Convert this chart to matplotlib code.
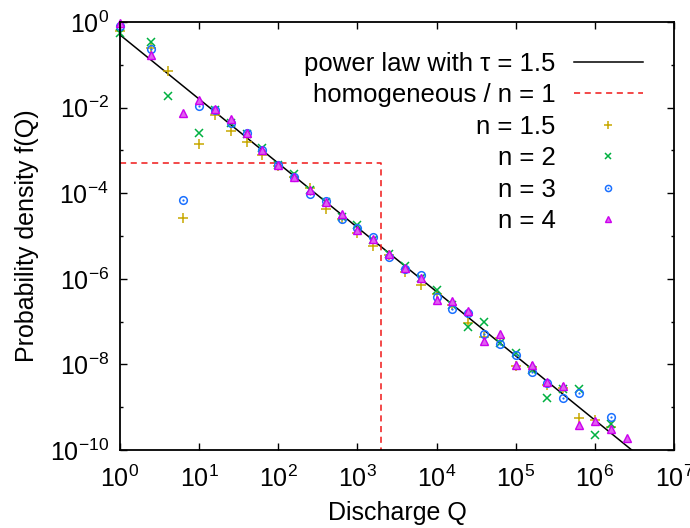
import numpy as np
import matplotlib
matplotlib.use("Agg")
import matplotlib.pyplot as plt
from matplotlib.legend_handler import HandlerTuple
from matplotlib.ticker import FixedLocator, NullFormatter, LogLocator

plt.rcParams["font.family"] = ["Liberation Sans", "DejaVu Sans"]
plt.rcParams["mathtext.fontset"] = "custom"
plt.rcParams["mathtext.rm"] = "Liberation Sans"
plt.rcParams["mathtext.it"] = "Liberation Sans"
plt.rcParams["axes.unicode_minus"] = False

# discharge bins (log-binned)
Q = [1, 2.5, 4, 6.3, 10, 15.8, 25.1, 39.8, 63.1, 100, 158, 251, 398, 631,
     1e3, 1.585e3, 2.512e3, 3.981e3, 6.31e3, 1e4, 1.585e4, 2.512e4, 3.981e4,
     6.31e4, 1e5, 1.585e5, 2.512e5, 3.981e5, 6.31e5, 1e6, 1.585e6, 2.512e6]
nan = np.nan
# log10 of the probability density
logf_n15 = [-0.20, -0.60, -1.14, -4.59, -2.86, -2.17, -2.54, -2.80, -3.11, -3.36,
            -3.63, -3.87, -4.38, -4.60, -4.92, -5.23, -5.45, -5.83, -6.14, -6.36,
            -6.61, -7.04, -7.35, -7.39, -8.03, -8.06, -8.48, -8.55, -9.26, -9.31,
            -9.47, nan]
logf_n2 = [-0.26, -0.46, -1.74, nan, -2.60, -2.06, -2.35, -2.62, -2.94, -3.33,
           -3.55, -3.92, -4.20, -4.55, -4.74, -5.10, -5.43, -5.71, -5.97, -6.26,
           -6.62, -7.12, -7.02, -7.51, -7.74, -8.12, -8.79, -8.58, -8.58, -9.66,
           -9.39, nan]
logf_n3 = [-0.09, -0.63, nan, -4.16, -1.96, -2.06, -2.37, -2.60, -3.00, -3.34,
           -3.62, -4.02, -4.18, -4.61, -4.82, -5.03, -5.50, -5.76, -5.91, -6.42,
           -6.71, -6.80, -7.30, -7.53, -7.78, -8.17, -8.43, -8.78, -8.66, nan,
           -9.24, nan]
logf_n4 = [-0.02, -0.77, nan, -2.12, -1.82, -2.04, -2.27, -2.60, -2.98, -3.34,
           -3.61, -3.93, -4.20, -4.49, -4.86, -5.08, -5.41, -5.74, -5.99, -6.50,
           -6.52, -6.75, -7.45, -7.30, -8.01, -8.01, -8.40, -8.50, -9.41, -9.32,
           -9.52, -9.71]

# homogeneous case: uniform up to Q = 2000
homog_Q = [1, 2000, 2000]
homog_f = [5e-4, 5e-4, 1e-12]

tau = 1.5
amp = 0.5

Q = np.array(Q)
Qline = np.logspace(0, 7, 200)

fig = plt.figure(figsize=(6.9, 5.28), dpi=100)
ax = fig.add_axes([120/690, 1-450/528, 554/690, 428/528])

lw = 1.1
pl, = ax.plot(Qline, amp * Qline**-tau, color="black", lw=lw)
hl, = ax.plot(homog_Q, homog_f, color="#f01818", lw=lw, ls=(0, (4, 3)))

c15, c2, c3, c4 = "#c8a800", "#00b040", "#1a70ff", "#cc00ee"
h15, = ax.plot(Q, 10**np.array(logf_n15), ls="none", marker="+", ms=7, mew=1.1,
               color=c15, clip_on=False)
h2, = ax.plot(Q, 10**np.array(logf_n2), ls="none", marker="x", ms=5.5, mew=1.1,
              color=c2, clip_on=False)
h3a, = ax.plot(Q, 10**np.array(logf_n3), ls="none", marker="o", ms=5.5, mew=1.1,
               mfc="none", color=c3, clip_on=False)
h3b, = ax.plot(Q, 10**np.array(logf_n3), ls="none", marker="o", ms=1.6, mew=0,
               color=c3, clip_on=False)
h4, = ax.plot(Q, 10**np.array(logf_n4), ls="none", marker="^", ms=5.5, mew=1.0,
              mfc="#e060f0", mec=c4, clip_on=False)

ax.set_xscale("log")
ax.set_yscale("log")
ax.set_xlim(1, 1e7)
ax.set_ylim(1e-10, 1)

ax.xaxis.set_major_locator(FixedLocator(10.0**np.arange(0, 8)))
ax.xaxis.set_minor_locator(LogLocator(base=10, subs=[2, 5, 8]))
ax.xaxis.set_minor_formatter(NullFormatter())
ax.yaxis.set_major_locator(FixedLocator(10.0**np.arange(-10, 1, 2)))
ax.yaxis.set_minor_locator(FixedLocator(10.0**np.arange(-9, 0, 2)))
ax.yaxis.set_minor_formatter(NullFormatter())

ax.tick_params(which="both", direction="in", top=True, right=True,
               labelsize=18, width=1.0)
ax.tick_params(which="major", length=5, pad=8)
ax.tick_params(axis="x", which="major", pad=11)
ax.tick_params(which="minor", length=2.5)
for s in ax.spines.values():
    s.set_linewidth(1.3)

ax.set_xlabel("Discharge Q", fontsize=18, labelpad=7)
ax.set_ylabel("Probability density f(Q)", fontsize=18, labelpad=8)

leg = ax.legend([pl, hl, h15, h2, (h3a, h3b), h4],
                ["power law with \u03c4 = 1.5", "homogeneous / n = 1",
                 "n = 1.5", "n = 2", "n = 3", "n = 4"],
                handler_map={tuple: HandlerTuple(ndivide=1)},
                loc="upper right", bbox_to_anchor=((643-120)/554, 0.93),
                frameon=False, fontsize=18.5, markerfirst=False, markerscale=0.8,
                handlelength=2.7, handletextpad=0.7, labelspacing=0.29,
                borderpad=0, borderaxespad=0)
for col in leg._legend_handle_box.get_children():
    col.align = "right"

fig.savefig("out.png", dpi=100)
